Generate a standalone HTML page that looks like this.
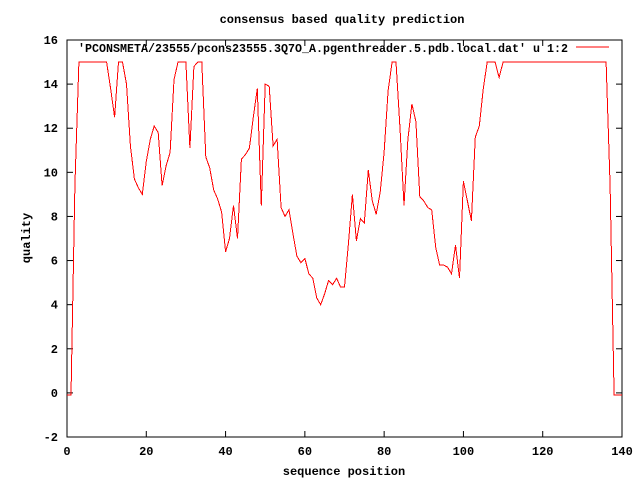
<!DOCTYPE html>
<html><head><meta charset="utf-8"><style>
body{margin:0;background:#fff}
svg{display:block}
text{font-family:"Liberation Mono","DejaVu Sans Mono",monospace;font-size:12px;font-weight:bold;fill:#000}
</style></head><body>
<svg id="chart" width="640" height="480">
<text x="342" y="23" text-anchor="middle">consensus based quality prediction</text>
<text x="344" y="475" text-anchor="middle">sequence position</text>
<text transform="translate(30,238) rotate(-90)" text-anchor="middle">quality</text>
<g id="ticks"></g>
<rect x="67" y="40" width="555" height="397" fill="none" stroke="#000" stroke-width="1"/>
<g>
<text x="78" y="52" textLength="490" lengthAdjust="spacingAndGlyphs">'PCONSMETA/23555/pcons23555.3Q7O_A.pgenthreader.5.pdb.local.dat' u 1:2</text>
<line x1="576" y1="47" x2="609" y2="47" stroke="#f00" stroke-width="1"/>
</g>
<path id="line" fill="none" stroke="#f00" stroke-width="1" shape-rendering="crispEdges"/>
</svg>
<script>
const xTicks=[0,20,40,60,80,100,120,140];
const yTicks=[-2,0,2,4,6,8,10,12,14,16];
const positions=[0,1,2,3,4,5,6,7,8,9,10,11,12,13,14,15,16,17,18,19,20,21,22,23,24,25,26,27,28,29,30,31,32,33,34,35,36,37,38,39,40,41,42,43,44,45,46,47,48,49,50,51,52,53,54,55,56,57,58,59,60,61,62,63,64,65,66,67,68,69,70,71,72,73,74,75,76,77,78,79,80,81,82,83,84,85,86,87,88,89,90,91,92,93,94,95,96,97,98,99,100,101,102,103,104,105,106,107,108,109,110,111,112,113,114,115,116,117,118,119,120,121,122,123,124,125,126,127,128,129,130,131,132,133,134,135,136,137,138,139,140];
const quality=[-0.1,-0.1,9.4,15,15,15,15,15,15,15,15,13.8,12.5,15,15,14,11.2,9.7,9.3,9.0,10.5,11.5,12.1,11.8,9.4,10.3,10.9,14.2,15,15,15,11.1,14.8,15,15,10.7,10.2,9.2,8.8,8.2,6.4,7.0,8.5,7.0,10.6,10.8,11.1,12.5,13.8,8.5,14.0,13.9,11.2,11.5,8.4,8.0,8.3,7.2,6.2,5.9,6.1,5.4,5.2,4.3,4.0,4.5,5.1,4.9,5.2,4.8,4.8,6.8,9.0,6.9,7.9,7.7,10.1,8.7,8.1,9.1,10.9,13.7,15,15,12.0,8.5,11.5,13.1,12.3,8.9,8.7,8.4,8.3,6.6,5.8,5.8,5.7,5.4,6.7,5.2,9.6,8.7,7.8,11.6,12.1,13.8,15,15,15,14.3,15,15,15,15,15,15,15,15,15,15,15,15,15,15,15,15,15,15,15,15,15,15,15,15,15,15,15,9.4,-0.1,-0.1,-0.1];
const L=67,R=622,T=40,B=437;
const sx=v=>L+(v-0)/(140-0)*(R-L);
const sy=v=>B-(v+2)/(16+2)*(B-T);
const NS="http://www.w3.org/2000/svg";
const g=document.getElementById('ticks');
function mk(tag,attrs){const e=document.createElementNS(NS,tag);for(const k in attrs)e.setAttribute(k,attrs[k]);return e;}
xTicks.forEach(t=>{
  const x=sx(t);
  const a=mk('line',{x1:x,y1:B,x2:x,y2:B-6,stroke:'#000'});
  
  
  g.appendChild(a);
  const b=mk('line',{x1:x,y1:T,x2:x,y2:T+6,stroke:'#000'});
  
  
  g.appendChild(b);
  const l=mk('text',{x:x,y:B+18,'text-anchor':'middle'});
  l.textContent=t;
  
  
  g.appendChild(l);
});
yTicks.forEach(t=>{
  const y=sy(t);
  const a=mk('line',{x1:L,y1:y,x2:L+6,y2:y,stroke:'#000'});
  
  
  g.appendChild(a);
  const b=mk('line',{x1:R,y1:y,x2:R-6,y2:y,stroke:'#000'});
  
  
  g.appendChild(b);
  const l=mk('text',{x:L-9,y:y+4,'text-anchor':'end'});
  l.textContent=t;
  
  
  g.appendChild(l);
});
let d='';
positions.forEach((p,i)=>{d+=(i?'L':'M')+sx(p).toFixed(1)+','+sy(quality[i]).toFixed(1);});
document.getElementById('line').setAttribute('d',d);
</script>
</body></html>
